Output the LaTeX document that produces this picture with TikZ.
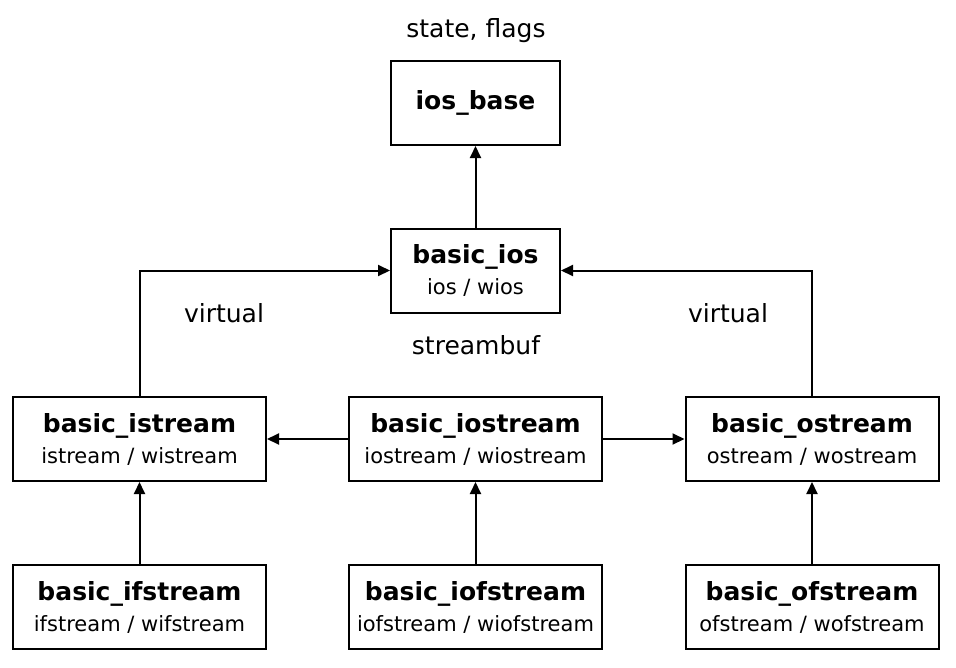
\documentclass[tikz,border=0pt]{standalone}
\usepackage{fontspec}
\setmainfont{DejaVu Sans}
\usetikzlibrary{arrows.meta}
\newcommand{\ttl}[1]{{\bfseries\fontsize{25}{31}\selectfont #1}}
\newcommand{\sbt}[1]{{\fontsize{21}{31}\selectfont #1}}
\begin{document}
\begin{tikzpicture}[x=1pt,y=-1pt,
  cls/.style={draw,line width=2pt,minimum width=253pt,minimum height=84pt,inner sep=0pt,align=center,font=\fontsize{21}{31}\selectfont},
  top/.style={cls,minimum width=169pt},
  lbl/.style={font=\fontsize{25}{30}\selectfont},
  arr/.style={line width=2pt,-{Triangle[length=12pt,width=11pt]}}]
\useasboundingbox (0,0) rectangle (956,667);
\node[top] (base) at (475.5,103) {\raisebox{-2pt}{\ttl{ios\_base}}};
\node[top] (ios) at (475.5,270.5) {\ttl{basic\_ios}\\\sbt{ios / wios}};
\node[cls] (is) at (139.5,439) {\ttl{basic\_istream}\\\sbt{istream / wistream}};
\node[cls] (ios2) at (475.5,439) {\ttl{basic\_iostream}\\\sbt{iostream / wiostream}};
\node[cls] (os) at (812,439) {\ttl{basic\_ostream}\\\sbt{ostream / wostream}};
\node[cls] (ifs) at (139.5,607) {\ttl{basic\_ifstream}\\\sbt{ifstream / wifstream}};
\node[cls] (iofs) at (475.5,607) {\ttl{basic\_iofstream}\\\sbt{iofstream / wiofstream}};
\node[cls] (ofs) at (812,607) {\ttl{basic\_ofstream}\\\sbt{ofstream / wofstream}};
\node[lbl] (sf) at (476,31) {state, flags};
\node[lbl] (sb) at (476,345) {streambuf};
\node[lbl] (v1) at (224,313) {virtual};
\node[lbl] (v2) at (728,313) {virtual};
\draw[arr] (ios) -- (base);
\draw[arr] (is.north) |- (ios.west);
\draw[arr] (os.north) |- (ios.east);
\draw[arr] (ios2) -- (is);
\draw[arr] (ios2) -- (os);
\draw[arr] (ifs) -- (is);
\draw[arr] (iofs) -- (ios2);
\draw[arr] (ofs) -- (os);
\end{tikzpicture}
\end{document}
